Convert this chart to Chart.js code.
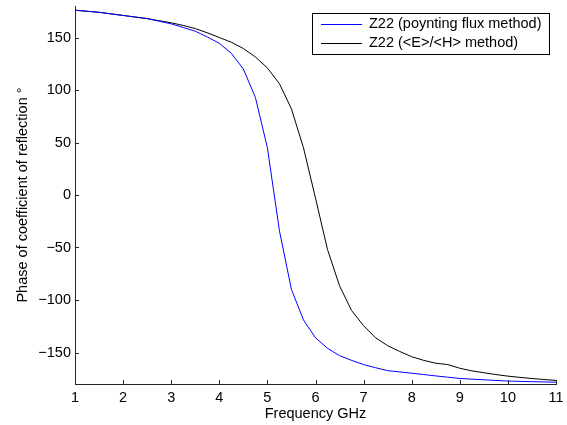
<!DOCTYPE html>
<html>
<head>
<meta charset="utf-8">
<script src="https://cdn.jsdelivr.net/npm/chart.js@4/dist/chart.umd.min.js"></script>
<style>
  html, body { margin: 0; padding: 0; background: #fff; }
  #wrap { width: 567px; height: 425px; }
</style>
</head>
<body>
<div id="wrap"><canvas id="phase-chart" width="567" height="425"></canvas></div>
<script>
// frequency points (GHz), 0.25 GHz step
var freqs = [1, 1.25, 1.5, 1.75, 2, 2.25, 2.5, 2.75, 3, 3.25, 3.5, 3.75, 4, 4.25, 4.5, 4.75,
             5, 5.25, 5.5, 5.75, 6, 6.25, 6.5, 6.75, 7, 7.25, 7.5, 7.75, 8, 8.25, 8.5, 8.75,
             9, 9.25, 9.5, 9.75, 10, 10.25, 10.5, 10.75, 11];

// phase, poynting flux method
var poynting = [176, 175, 174, 172.5, 171, 169.5, 168, 165.5, 163, 159.5, 156, 150.5, 144.5, 135, 120, 93,
                45, -34, -90, -119, -136, -146, -153, -157.5, -161.5, -164.5, -167.3, -168.5, -169.7, -171, -172.3, -173.5,
                -174.7, -175.4, -176, -176.6, -177.2, -177.5, -177.8, -178, -178.3];

// phase, <E>/<H> method
var eh = [176, 175, 174, 172.5, 171, 169.5, 168, 166, 164, 161.5, 158.5, 154.5, 150, 145.5, 139.5, 131.5,
          121, 106, 82, 45, -3, -52, -86.5, -110, -124.5, -136, -143.5, -149, -154, -157.5, -160.2, -161.5,
          -165, -167.5, -169.3, -171, -172.5, -173.7, -174.8, -175.7, -176.6];

var seriesLabels = ['Z22 (poynting flux method)', 'Z22 (<E>/<H> method)'];
var seriesColors = ['#0000ff', '#000000'];
var xTicks = [1, 2, 3, 4, 5, 6, 7, 8, 9, 10, 11];
var yTicks = [-150, -100, -50, 0, 50, 100, 150];

var FONT = 'Liberation Sans, Arial, Helvetica, sans-serif';
var FSIZE = 14.5;
var AXIS = '#262626';

function toPoints(xs, ys) {
    var pts = [];
    for (var i = 0; i < xs.length; i++) {
        pts.push({ x: xs[i], y: ys[i] });
    }
    return pts;
}

// tick marks pointing into the plot, like matlab
var innerTicks = {
    id: 'innerTicks',
    afterDraw: function (chart) {
        var ctx = chart.ctx;
        var a = chart.chartArea;
        var xs = chart.scales.x, ys = chart.scales.y;
        ctx.save();
        ctx.strokeStyle = AXIS;
        ctx.lineWidth = 1;
        ctx.beginPath();
        xTicks.forEach(function (v) {
            var px = Math.round(xs.getPixelForValue(v)) + 0.5;
            ctx.moveTo(px, a.bottom);
            ctx.lineTo(px, a.bottom - 4);
        });
        yTicks.forEach(function (v) {
            var py = Math.round(ys.getPixelForValue(v)) + 0.5;
            ctx.moveTo(a.left, py);
            ctx.lineTo(a.left + 4, py);
        });
        ctx.stroke();
        ctx.restore();
    }
};

// boxed legend in the top right corner
var boxLegend = {
    id: 'boxLegend',
    afterDraw: function (chart) {
        var ctx = chart.ctx;
        var x0 = 312, y0 = 13, w = 237, h = 41;
        ctx.save();
        ctx.fillStyle = '#fff';
        ctx.fillRect(x0, y0, w, h);
        ctx.strokeStyle = '#000';
        ctx.lineWidth = 1;
        ctx.strokeRect(x0 + 0.5, y0 + 0.5, w, h);
        ctx.font = FSIZE + 'px ' + FONT;
        ctx.textBaseline = 'middle';
        for (var i = 0; i < seriesLabels.length; i++) {
            var cy = y0 + 11 + i * 19;
            ctx.strokeStyle = seriesColors[i];
            ctx.beginPath();
            ctx.moveTo(321, cy + 0.5);
            ctx.lineTo(362, cy + 0.5);
            ctx.stroke();
            ctx.fillStyle = '#000';
            ctx.fillText(seriesLabels[i], 369, cy);
        }
        ctx.restore();
    }
};

var ctx = document.getElementById('phase-chart');
var chart = new Chart(ctx, {

    type: 'line',

    data: {
        datasets: [{
                label: seriesLabels[0],
                borderColor: seriesColors[0],
                backgroundColor: seriesColors[0],
                borderWidth: 1,
                pointRadius: 0,
                tension: 0,
                data: toPoints(freqs, poynting)
            },
            {
                label: seriesLabels[1],
                borderColor: seriesColors[1],
                backgroundColor: seriesColors[1],
                borderWidth: 1,
                pointRadius: 0,
                tension: 0,
                data: toPoints(freqs, eh)
            }
        ]
    },

    options: {
        responsive: false,
        animation: false,
        layout: { padding: { top: 6, right: 11, left: 0, bottom: 0 } },
        plugins: {
            legend: { display: false },
            tooltip: { enabled: false }
        },
        scales: {
            x: {
                type: 'linear',
                min: 1,
                max: 11,
                afterBuildTicks: function (s) {
                    s.ticks = xTicks.map(function (v) { return { value: v }; });
                },
                afterFit: function (s) {
                    s.height = 41;
                    s.paddingLeft = 0;
                    s.paddingRight = 0;
                },
                grid: { drawOnChartArea: false, drawTicks: false },
                border: { color: AXIS, width: 1 },
                ticks: { color: '#000', font: { family: FONT, size: FSIZE }, padding: 5, maxRotation: 0 },
                title: { display: true, text: 'Frequency GHz', color: '#000', font: { family: FONT, size: FSIZE }, padding: { top: 0, bottom: 2 } }
            },
            y: {
                type: 'linear',
                min: -180,
                max: 180,
                afterBuildTicks: function (s) {
                    s.ticks = yTicks.map(function (v) { return { value: v }; });
                },
                afterFit: function (s) {
                    s.width = 75;
                    s.paddingTop = 0;
                    s.paddingBottom = 0;
                },
                grid: { drawOnChartArea: false, drawTicks: false },
                border: { color: AXIS, width: 1 },
                ticks: {
                    color: '#000',
                    font: { family: FONT, size: FSIZE },
                    padding: 4,
                    callback: function (v) { return String(v).replace('-', '\u2212'); }
                },
                title: { display: true, text: 'Phase of coefficient of reflection \u00b0', color: '#000', font: { family: FONT, size: FSIZE }, padding: { top: 14, bottom: 0 } }
            }
        }
    },
    plugins: [innerTicks, boxLegend]
});
</script>
</body>
</html>
